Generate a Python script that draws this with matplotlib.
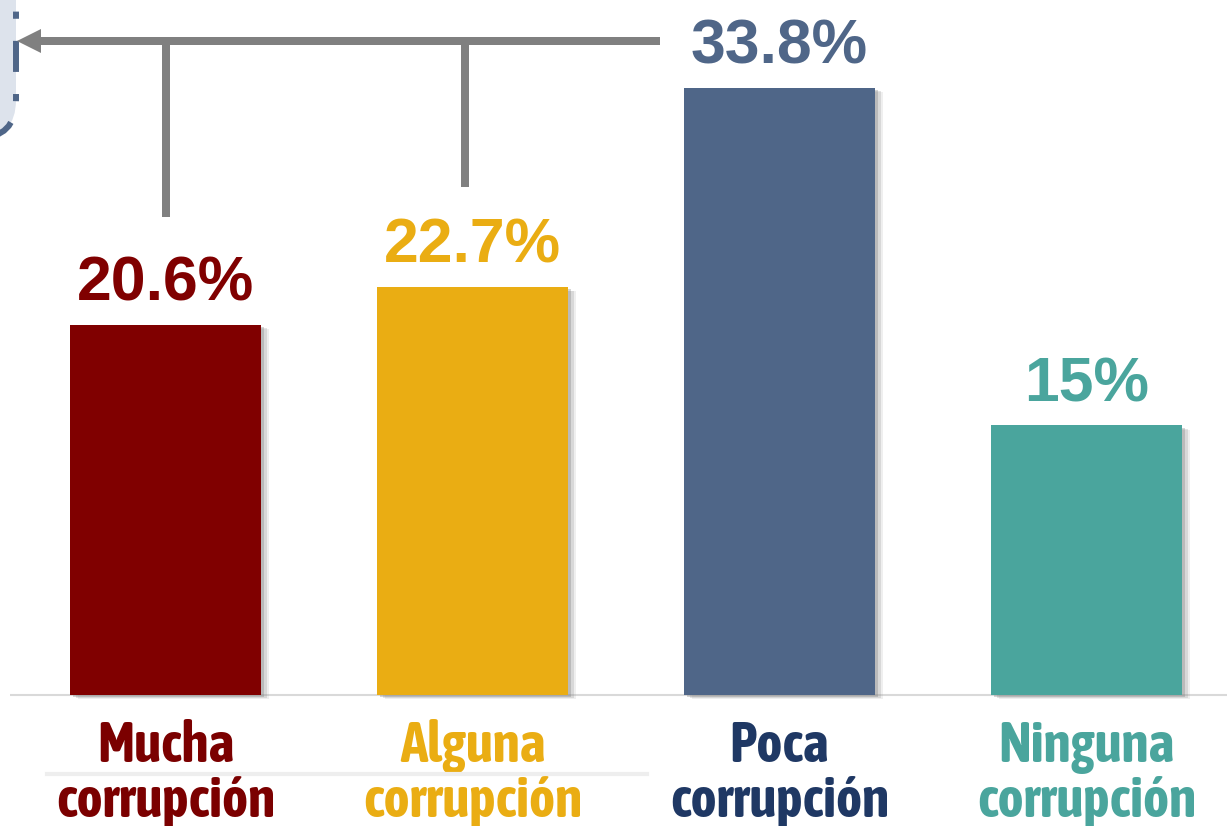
import matplotlib
matplotlib.use("Agg")
import matplotlib.pyplot as plt
from matplotlib.patches import FancyArrow, FancyBboxPatch
import matplotlib.patheffects as pe

categories_line1 = ["Mucha", "Alguna", "Poca", "Ninguna"]
categories_line2 = ["corrupción", "corrupción", "corrupción", "corrupción"]
values = [20.6, 22.7, 33.8, 15.0]
value_labels = ["20.6%", "22.7%", "33.8%", "15%"]
bar_colors = ["#800000", "#eaad13", "#4f6688", "#4aa59d"]
label_colors = ["#7b0000", "#eaad13", "#1f3864", "#4aa59d"]

cat_font = ["Asap Condensed", "Liberation Sans", "DejaVu Sans"]
val_font = ["Liberation Sans", "DejaVu Sans"]

W, H = 1227, 826
fig = plt.figure(figsize=(W / 100, H / 100), dpi=100)
ax = fig.add_axes([0, 0, 1, 1])
px_per_cat = 307.0
x0_px = 165.5
base_px = 131.0
px_per_unit = 17.97
ax.set_xlim(-x0_px / px_per_cat, (W - x0_px) / px_per_cat)
ax.set_ylim(-base_px / px_per_unit, (H - base_px) / px_per_unit)
ax.axis("off")

xs = list(range(len(values)))
shadow = [pe.SimplePatchShadow(offset=(6, -3), shadow_rgbFace="#999999", alpha=0.15),
          pe.SimplePatchShadow(offset=(4, -2.5), shadow_rgbFace="#888888", alpha=0.22),
          pe.SimplePatchShadow(offset=(2, -1.5), shadow_rgbFace="#777777", alpha=0.3),
          pe.Normal()]
bars = ax.bar(xs, values, width=191 / px_per_cat, color=bar_colors, zorder=3)
for b in bars:
    b.set_path_effects(shadow)

ax.hlines(0, (10 - x0_px) / px_per_cat, (W - x0_px) / px_per_cat,
          color="#d9d9d9", lw=1.5, zorder=2)

for x, v, lab, c in zip(xs, values, value_labels, bar_colors):
    ax.annotate(lab, (x, v), xytext=(0, 17.5), textcoords="offset points",
                ha="center", va="baseline", fontsize=45, fontweight="bold",
                color=c, family=val_font)

for x, l1, l2, c in zip(xs, categories_line1, categories_line2, label_colors):
    ax.annotate(l1, (x, 0), xytext=(0, -48.2), textcoords="offset points",
                ha="center", va="baseline", fontsize=40, fontweight="bold",
                color=c, family=cat_font)
    ax.annotate(l2, (x, 0), xytext=(0, -87.8), textcoords="offset points",
                ha="center", va="baseline", fontsize=40, fontweight="bold",
                color=c, family=cat_font)

# decoration overlay in pixel coordinates
ax2 = fig.add_axes([0, 0, 1, 1], facecolor="none")
ax2.set_xlim(0, W)
ax2.set_ylim(0, H)
ax2.axis("off")

box = FancyBboxPatch((-300, H - 138), 316, 400,
                     boxstyle="round,pad=0,rounding_size=38",
                     facecolor="#dde3ec", edgecolor="#4f6688", lw=4.3,
                     linestyle=(0, (5.2, 3.7, 1.2, 3.7)), zorder=1)
ax2.add_patch(box)

gray = "#808080"
ax2.add_patch(FancyArrow(660, H - 41, -643, 0, width=8, head_width=24,
                         head_length=24, length_includes_head=True,
                         color=gray, lw=0, zorder=2))
ax2.plot([166, 166], [H - 41, H - 217], color=gray, lw=5.76,
         solid_capstyle="butt", zorder=2)
ax2.plot([465, 465], [H - 41, H - 187], color=gray, lw=5.76,
         solid_capstyle="butt", zorder=2)
ax2.plot([47, 647], [H - 774, H - 774], color="#eeeeee", lw=3, zorder=1)

fig.savefig("out.png", dpi=100)
